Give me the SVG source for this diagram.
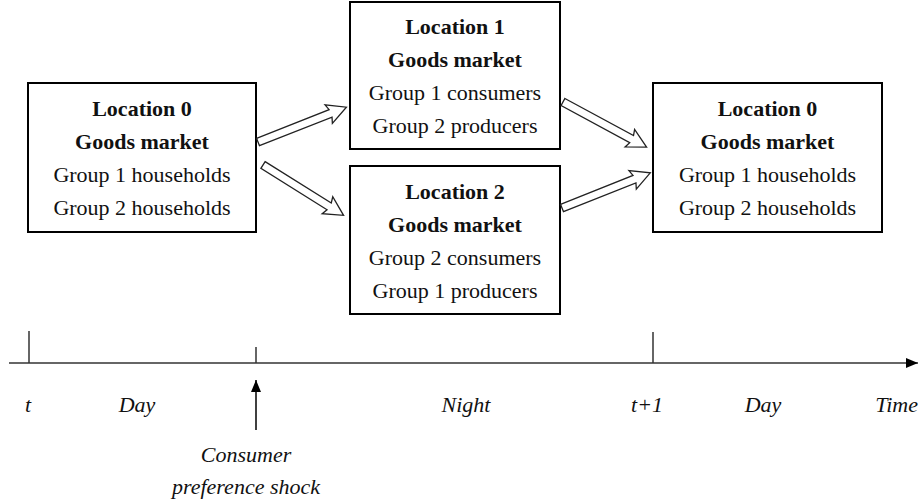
<svg xmlns="http://www.w3.org/2000/svg" width="923" height="504" viewBox="0 0 923 504" font-family="Liberation Serif, Times New Roman, Times, Nimbus Roman, Noto Serif, DejaVu Serif, serif">
<style>
.box{fill:#fff;stroke:#000;stroke-width:2}
.t{font-size:22px;fill:#111;text-anchor:middle}
.b{font-weight:bold}
.i{font-size:22px;font-style:italic;fill:#111;text-anchor:middle}
.blk{fill:#fff;stroke:#222;stroke-width:1.3;stroke-linejoin:miter}
.ln{stroke:#333;stroke-width:1.5;fill:none}
</style>
<defs>
<polygon id="blockArrow" points="0,-4 78,-4 76,-10 95,0 76,10 78,4 0,4"/>
<marker id="ah" markerWidth="12" markerHeight="10" refX="12" refY="5" orient="auto" markerUnits="userSpaceOnUse">
<path d="M0,0 L12,5 L0,10 Z" fill="#000"/>
</marker>
</defs>
<rect width="923" height="504" fill="#fff"/>
<g id="loc0-left">
<rect class="box" x="28" y="83" width="228" height="149"/>
<text class="t b" x="142" y="116">Location 0</text>
<text class="t b" x="142" y="149">Goods market</text>
<text class="t" x="142" y="182">Group 1 households</text>
<text class="t" x="142" y="215">Group 2 households</text>
</g>
<g id="loc1">
<rect class="box" x="350" y="2" width="210" height="147"/>
<text class="t b" x="455" y="34">Location 1</text>
<text class="t b" x="455" y="67">Goods market</text>
<text class="t" x="455" y="100">Group 1 consumers</text>
<text class="t" x="455" y="133">Group 2 producers</text>
</g>
<g id="loc2">
<rect class="box" x="350" y="166" width="210" height="148"/>
<text class="t b" x="455" y="199">Location 2</text>
<text class="t b" x="455" y="232">Goods market</text>
<text class="t" x="455" y="265">Group 2 consumers</text>
<text class="t" x="455" y="298">Group 1 producers</text>
</g>
<g id="loc0-right">
<rect class="box" x="653" y="83" width="229" height="149"/>
<text class="t b" x="767.5" y="116">Location 0</text>
<text class="t b" x="767.5" y="149">Goods market</text>
<text class="t" x="767.5" y="182">Group 1 households</text>
<text class="t" x="767.5" y="215">Group 2 households</text>
</g>
<g id="connectors">
<use href="#blockArrow" class="blk" transform="translate(258,142) rotate(-21.5)"/>
<use href="#blockArrow" class="blk" transform="translate(263,165) rotate(32)"/>
<use href="#blockArrow" class="blk" transform="translate(563,102) rotate(28.4)"/>
<use href="#blockArrow" class="blk" transform="translate(562,208) rotate(-21.7)"/>
</g>
<g id="timeline">
<line class="ln" x1="9" y1="363" x2="918" y2="363" marker-end="url(#ah)"/>
<line class="ln" x1="29" y1="331" x2="29" y2="363"/>
<line class="ln" x1="256" y1="347" x2="256" y2="363"/>
<line class="ln" x1="653" y1="332" x2="653" y2="363"/>
<line x1="256" y1="430" x2="256" y2="380" stroke="#000" stroke-width="1.5" marker-end="url(#ah)"/>
<text class="i" x="28" y="412">t</text>
<text class="i" x="137" y="412">Day</text>
<text class="i" x="466" y="412">Night</text>
<text class="i" x="647" y="412">t+1</text>
<text class="i" x="763" y="412">Day</text>
<text class="i" x="918" y="412" style="text-anchor:end">Time</text>
<text class="i" x="246" y="462">Consumer</text>
<text class="i" x="246" y="494">preference shock</text>
</g>
</svg>
